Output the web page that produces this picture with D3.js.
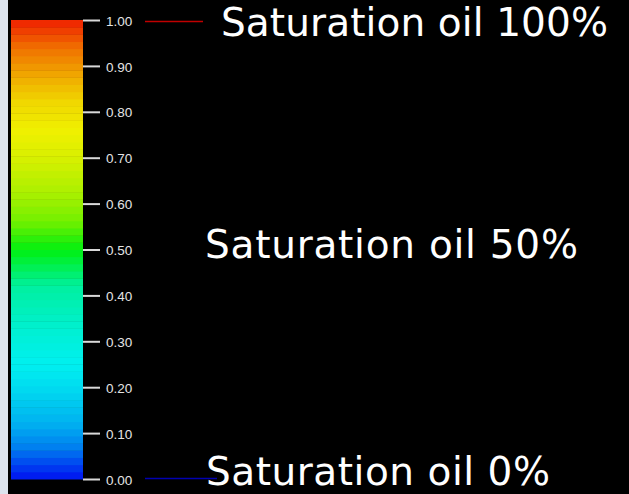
<!DOCTYPE html>
<html>
<head>
<meta charset="utf-8">
<script src="https://cdn.jsdelivr.net/npm/d3@7"></script>
<style>
  html, body { margin: 0; padding: 0; background: #000; }
  svg { display: block; }
</style>
</head>
<body>
<svg id="chart" width="629" height="494"></svg>
<script>
// ---- data ----
const tickValues = [0, 0.1, 0.2, 0.3, 0.4, 0.5, 0.6, 0.7, 0.8, 0.9, 1.0];
const tickLabels = ["0.00", "0.10", "0.20", "0.30", "0.40", "0.50", "0.60", "0.70", "0.80", "0.90", "1.00"];
const colorStops = [0, 0.03, 0.07, 0.12, 0.2, 0.25, 0.32, 0.42, 0.5, 0.56, 0.62, 0.7, 0.76, 0.82, 0.88, 0.94, 1.0];
const colorValues = ["#0010f0", "#0040f0", "#0080f0", "#00b0f0", "#00dcf0", "#00f0f0", "#00f0d4", "#00f0a0", "#00f010",
                     "#70f000", "#a8f000", "#d8f000", "#f0f000", "#f0d800", "#f0a800", "#f07000", "#f02000"];
const bandCount = 64;
const annotValues = [1.0, 0.5, 0.0];
const annotLabels = ["Saturation oil 100%", "Saturation oil 50%", "Saturation oil 0%"];
const markerValues = [1.0, 0.0];
const markerColors = ["#c00000", "#0000b0"];

// ---- layout ----
const svg = d3.select("#chart");
const W = 629, H = 494;
const bar = { x0: 11, x1: 83, top: 20, bottom: 479 };

svg.append("rect").attr("x", 0).attr("y", 0).attr("width", W).attr("height", H).attr("fill", "#000");
svg.append("rect").attr("x", 0).attr("y", 0).attr("width", 8).attr("height", H).attr("fill", "#dde4ee");

const y = d3.scaleLinear().domain([0, 1]).range([bar.bottom, bar.top]);
const color = d3.scaleLinear().domain(colorStops).range(colorValues).interpolate(d3.interpolateRgb);

const bands = d3.range(bandCount).map(i => ({ lo: i / bandCount, hi: (i + 1) / bandCount }));
svg.append("g").selectAll("rect").data(bands).join("rect")
  .attr("x", bar.x0)
  .attr("width", bar.x1 - bar.x0)
  .attr("y", d => y(d.hi))
  .attr("height", d => y(d.lo) - y(d.hi) + 0.5)
  .attr("fill", d => color((d.lo + d.hi) / 2));

// axis
const axis = d3.axisRight(y)
  .tickValues(tickValues)
  .tickFormat((d, i) => tickLabels[i])
  .tickSize(17)
  .tickPadding(6);
const ag = svg.append("g").attr("transform", `translate(${bar.x1},0)`).call(axis);
ag.select(".domain").remove();
ag.selectAll(".tick line").attr("stroke", "#d8d8d8").attr("stroke-width", 2);
ag.selectAll(".tick text")
  .attr("fill", "#e4e4e4")
  .attr("font-family", "'Liberation Sans', Arial, sans-serif")
  .attr("font-size", 13.5)
  .attr("dy", "0.38em");

// marker lines
const markerLayout = [{ x0: 145, x1: 203, dy: 1.5 }, { x0: 145, x1: 217, dy: -0.5 }];
svg.append("g").selectAll("line").data(markerValues).join("line")
  .attr("x1", (d, i) => markerLayout[i].x0)
  .attr("x2", (d, i) => markerLayout[i].x1)
  .attr("y1", (d, i) => y(d) + markerLayout[i].dy)
  .attr("y2", (d, i) => y(d) + markerLayout[i].dy)
  .attr("stroke", (d, i) => markerColors[i])
  .attr("stroke-width", 1.5);

// annotations
const annotLayout = [
  { x: 221, dy: 16, w: 387 },
  { x: 205, dy: 8, w: 373 },
  { x: 206, dy: 6, w: 344 }
];
svg.append("g").selectAll("text").data(annotValues).join("text")
  .attr("x", (d, i) => annotLayout[i].x)
  .attr("y", (d, i) => y(d) + annotLayout[i].dy)
  .attr("fill", "#fff")
  .attr("font-family", "'DejaVu Sans', sans-serif")
  .attr("font-size", 39)
  .style("font-variant-ligatures", "none")
  .attr("textLength", (d, i) => annotLayout[i].w)
  .attr("lengthAdjust", "spacing")
  .text((d, i) => annotLabels[i]);
</script>
</body>
</html>
